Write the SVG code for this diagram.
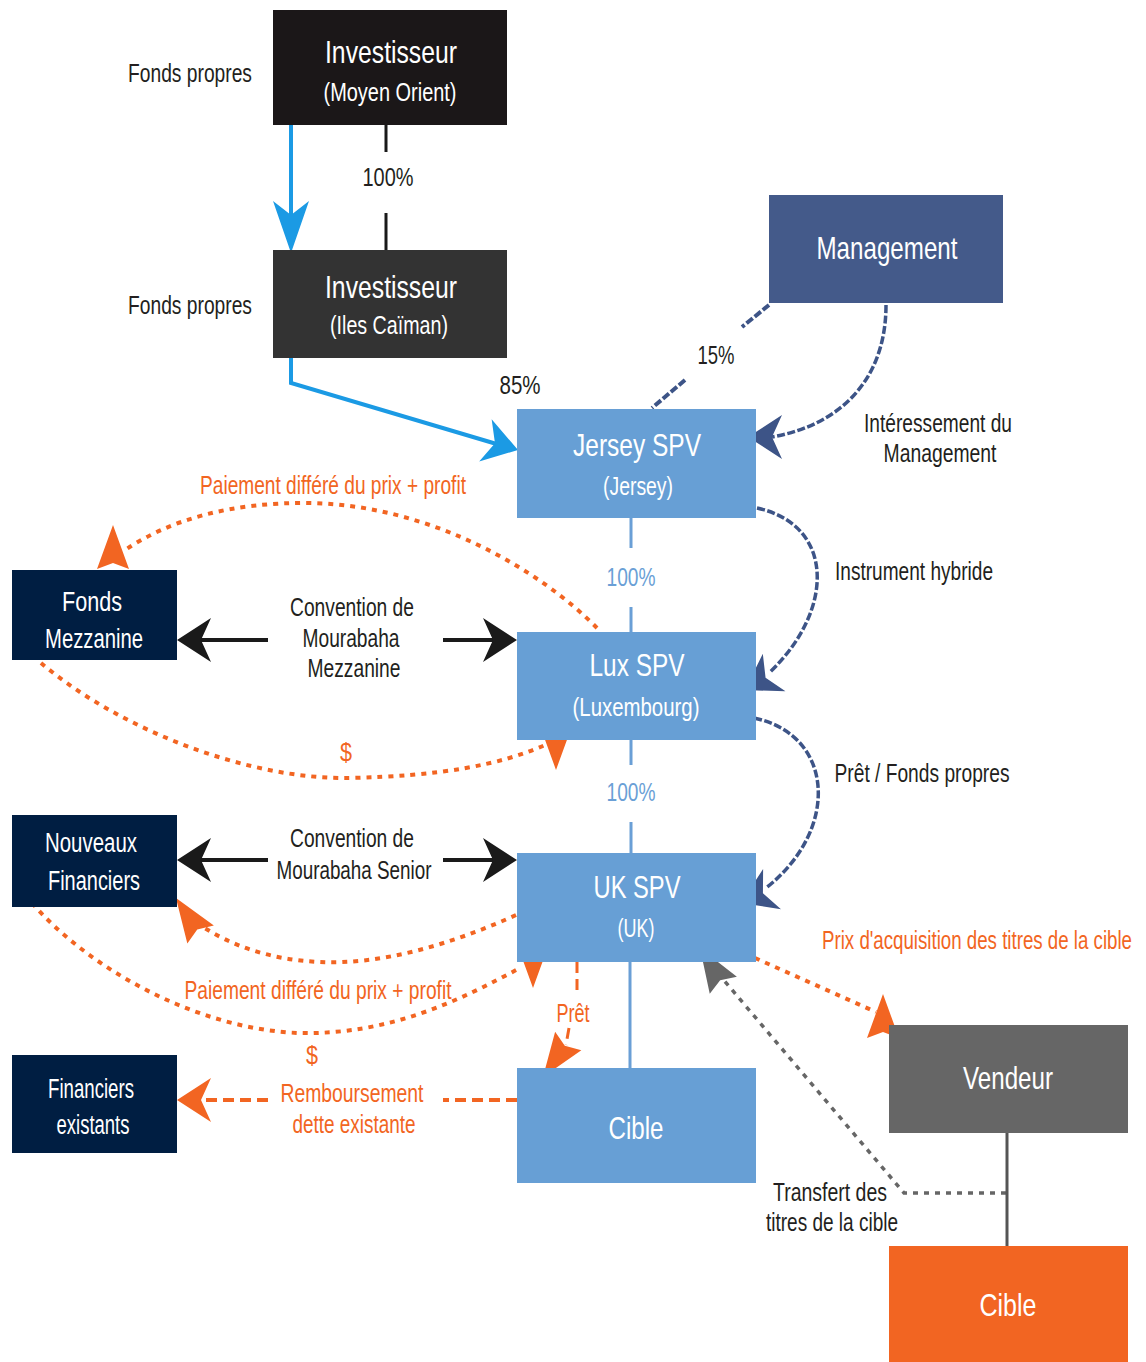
<svg xmlns="http://www.w3.org/2000/svg" xmlns:xlink="http://www.w3.org/1999/xlink" width="1146" height="1362" viewBox="0 0 1146 1362">
<defs>
<style>
text{font-family:"Liberation Sans Narrow","Liberation Sans",Arial,sans-serif;text-anchor:middle}
.t{fill:#fff;font-size:32px}
.s{fill:#fff;font-size:25px}
.n{fill:#fff;font-size:27px}
.l{fill:#231f20;font-size:26px}
.o{fill:#f26522;font-size:26px}
.b{fill:#6a9fd6;font-size:26px}
.dot{fill:none;stroke:#f26522;stroke-width:4;stroke-dasharray:5 6}
.dash{fill:none;stroke:#f26522;stroke-width:4;stroke-dasharray:11 6}
.dk{fill:none;stroke:#3d5487;stroke-width:3.5;stroke-dasharray:8 2.5}
.vl{fill:none;stroke:#6a9fd6;stroke-width:3}
.blk{fill:none;stroke:#1a1a1a;stroke-width:4}
.bl{fill:none;stroke:#1b9ae4;stroke-width:4}
</style>
<path id="ah" d="M0,0 L-34,-22 L-24,0 L-34,22 Z"/>
<path id="ao" d="M0,0 L-44,-16 L-38,0 L-44,16 Z"/>
</defs>

<g id="connectors">
  <path class="bl" d="M291,125 V215"/>
  <path d="M291,253 L273,201 L291,215 L309,201 Z" fill="#1b9ae4"/>
  <path class="blk" d="M386,125 V152 M386,213 V250" style="stroke-width:3"/>
  <path class="bl" d="M291,358 V383 L500,445"/>
  <use xlink:href="#ah" href="#ah" fill="#1b9ae4" transform="translate(518,450) rotate(16.5)"/>
  <path class="dk" d="M769,305 L742,327 M685,380 L652,408" style="stroke-width:4"/>
  <path class="dk" d="M886,305 C886,380 840,425 772,437"/>
  <use href="#ah" xlink:href="#ah" fill="#3d5487" transform="translate(748,437) rotate(180)"/>
  <path class="vl" d="M631,518 V548 M631,607 V632 M631,740 V765 M631,822 V853 M630,962 V1068"/>
  <path class="dk" d="M757,508 C835,525 835,610 770,672"/>
  <use href="#ah" xlink:href="#ah" fill="#3d5487" transform="translate(745,690) rotate(149)"/>
  <path class="dk" d="M754,718 C835,735 840,830 766,888"/>
  <use href="#ah" xlink:href="#ah" fill="#3d5487" transform="translate(741,903) rotate(156)"/>
  <path class="blk" d="M200,640 H268 M443,640 H495"/>
  <use href="#ah" xlink:href="#ah" fill="#1a1a1a" transform="translate(177,640) rotate(180)"/>
  <use href="#ah" xlink:href="#ah" fill="#1a1a1a" transform="translate(517,640)"/>
  <path class="dot" d="M597,628 C540,570 430,505 310,503 C230,502 170,520 125,550"/>
  <use href="#ao" xlink:href="#ao" fill="#f26522" transform="translate(113,525) rotate(-90)"/>
  <path class="dot" d="M41,663 C120,730 250,780 350,778 C440,776 500,765 545,745"/>
  <use href="#ao" xlink:href="#ao" fill="#f26522" transform="translate(556,770) rotate(90)"/>
  <path class="blk" d="M200,860 H268 M443,860 H495"/>
  <use href="#ah" xlink:href="#ah" fill="#1a1a1a" transform="translate(177,860) rotate(180)"/>
  <use href="#ah" xlink:href="#ah" fill="#1a1a1a" transform="translate(517,860)"/>
  <path class="dot" d="M516,915 C450,945 380,965 320,962 C270,960 230,945 200,925"/>
  <use href="#ao" xlink:href="#ao" fill="#f26522" transform="translate(176,898) rotate(-124)"/>
  <path class="dot" d="M32,903 C90,970 200,1030 300,1033 C390,1035 460,1000 520,968"/>
  <use href="#ao" xlink:href="#ao" fill="#f26522" transform="translate(533,988) rotate(90)"/>
  <path class="dash" d="M517,1100 H443 M268,1100 H200"/>
  <use href="#ah" xlink:href="#ah" fill="#f26522" transform="translate(177,1100) rotate(180)"/>
  <path class="dash" d="M577,962 V990 M569,1028 L566,1045" style="stroke-width:3"/>
  <use href="#ao" xlink:href="#ao" fill="#f26522" transform="translate(543,1077) rotate(125)"/>
  <path class="dot" d="M755,958 L876,1012"/>
  <use href="#ao" xlink:href="#ao" fill="#f26522" transform="translate(883,994) rotate(-90)"/>
  <path class="dot" d="M1006,1193 H904 L722,978" style="stroke:#666;stroke-width:3.5"/>
  <use href="#ao" xlink:href="#ao" fill="#666" transform="translate(700,948) rotate(-122)"/>
  <path d="M1007,1133 V1246" fill="none" stroke="#555" stroke-width="3"/>
</g>

<g id="labels">
  <text class="l" x="190" y="82" textLength="124" lengthAdjust="spacingAndGlyphs">Fonds propres</text>
  <text class="l" x="190" y="314" textLength="124" lengthAdjust="spacingAndGlyphs">Fonds propres</text>
  <text class="l" x="388" y="186" textLength="51" lengthAdjust="spacingAndGlyphs">100%</text>
  <text class="l" x="716" y="364" textLength="37" lengthAdjust="spacingAndGlyphs">15%</text>
  <text class="l" x="520" y="394" textLength="41" lengthAdjust="spacingAndGlyphs">85%</text>
  <text class="l" x="938" y="432" textLength="148" lengthAdjust="spacingAndGlyphs">Intéressement du</text>
  <text class="l" x="940" y="462" textLength="113" lengthAdjust="spacingAndGlyphs">Management</text>
  <text class="o" x="333" y="494" textLength="266" lengthAdjust="spacingAndGlyphs">Paiement différé du prix + profit</text>
  <text class="b" x="631" y="586" textLength="49" lengthAdjust="spacingAndGlyphs">100%</text>
  <text class="l" x="914" y="580" textLength="158" lengthAdjust="spacingAndGlyphs">Instrument hybride</text>
  <text class="l" x="352" y="616" textLength="124" lengthAdjust="spacingAndGlyphs">Convention de</text>
  <text class="l" x="351" y="647" textLength="97" lengthAdjust="spacingAndGlyphs">Mourabaha</text>
  <text class="l" x="354" y="677" textLength="93" lengthAdjust="spacingAndGlyphs">Mezzanine</text>
  <text class="o" x="346" y="761" textLength="12" lengthAdjust="spacingAndGlyphs">$</text>
  <text class="b" x="631" y="801" textLength="49" lengthAdjust="spacingAndGlyphs">100%</text>
  <text class="l" x="922" y="782" textLength="175" lengthAdjust="spacingAndGlyphs">Prêt / Fonds propres</text>
  <text class="l" x="352" y="847" textLength="124" lengthAdjust="spacingAndGlyphs">Convention de</text>
  <text class="l" x="354" y="879" textLength="155" lengthAdjust="spacingAndGlyphs">Mourabaha Senior</text>
  <text class="o" x="1132" y="949" style="text-anchor:end" textLength="310" lengthAdjust="spacingAndGlyphs">Prix d'acquisition des titres de la cible</text>
  <text class="o" x="318" y="999" textLength="267" lengthAdjust="spacingAndGlyphs">Paiement différé du prix + profit</text>
  <text class="o" x="573" y="1022" textLength="33" lengthAdjust="spacingAndGlyphs">Prêt</text>
  <text class="o" x="312" y="1064" textLength="12" lengthAdjust="spacingAndGlyphs">$</text>
  <text class="o" x="352" y="1102" textLength="143" lengthAdjust="spacingAndGlyphs">Remboursement</text>
  <text class="o" x="354" y="1133" textLength="123" lengthAdjust="spacingAndGlyphs">dette existante</text>
  <text class="l" x="830" y="1201" textLength="114" lengthAdjust="spacingAndGlyphs">Transfert des</text>
  <text class="l" x="832" y="1231" textLength="132" lengthAdjust="spacingAndGlyphs">titres de la cible</text>
</g>

<g id="investisseur-moyen-orient">
  <rect x="273" y="10" width="234" height="115" fill="#1b1718"/>
  <text class="t" x="391" y="63" textLength="132" lengthAdjust="spacingAndGlyphs">Investisseur</text>
  <text class="s" x="390" y="101" textLength="133" lengthAdjust="spacingAndGlyphs">(Moyen Orient)</text>
</g>
<g id="investisseur-iles-caiman">
  <rect x="273" y="250" width="234" height="108" fill="#333333"/>
  <text class="t" x="391" y="298" textLength="132" lengthAdjust="spacingAndGlyphs">Investisseur</text>
  <text class="s" x="389" y="334" textLength="118" lengthAdjust="spacingAndGlyphs">(Iles Caïman)</text>
</g>
<g id="management">
  <rect x="769" y="195" width="234" height="108" fill="#445a8a"/>
  <text class="t" x="887" y="259" textLength="141" lengthAdjust="spacingAndGlyphs">Management</text>
</g>
<g id="jersey-spv">
  <rect x="517" y="409" width="239" height="109" fill="#679fd5"/>
  <text class="t" x="637" y="456" textLength="128" lengthAdjust="spacingAndGlyphs">Jersey SPV</text>
  <text class="s" x="638" y="495" textLength="70" lengthAdjust="spacingAndGlyphs">(Jersey)</text>
</g>
<g id="lux-spv">
  <rect x="517" y="632" width="239" height="108" fill="#679fd5"/>
  <text class="t" x="637" y="676" textLength="95" lengthAdjust="spacingAndGlyphs">Lux SPV</text>
  <text class="s" x="636" y="716" textLength="127" lengthAdjust="spacingAndGlyphs">(Luxembourg)</text>
</g>
<g id="uk-spv">
  <rect x="517" y="853" width="239" height="109" fill="#679fd5"/>
  <text class="t" x="637" y="898" textLength="87" lengthAdjust="spacingAndGlyphs">UK SPV</text>
  <text class="s" x="636" y="937" textLength="37" lengthAdjust="spacingAndGlyphs">(UK)</text>
</g>
<g id="cible-spv">
  <rect x="517" y="1068" width="239" height="115" fill="#679fd5"/>
  <text class="t" x="636" y="1139" textLength="55" lengthAdjust="spacingAndGlyphs">Cible</text>
</g>
<g id="vendeur">
  <rect x="889" y="1025" width="239" height="108" fill="#666666"/>
  <text class="t" x="1008" y="1089" textLength="90" lengthAdjust="spacingAndGlyphs">Vendeur</text>
</g>
<g id="cible">
  <rect x="889" y="1246" width="239" height="116" fill="#f26522"/>
  <text class="t" x="1008" y="1316" textLength="57" lengthAdjust="spacingAndGlyphs">Cible</text>
</g>
<g id="fonds-mezzanine">
  <rect x="12" y="570" width="165" height="90" fill="#001e42"/>
  <text class="n" x="92" y="611" textLength="60" lengthAdjust="spacingAndGlyphs">Fonds</text>
  <text class="n" x="94" y="648" textLength="98" lengthAdjust="spacingAndGlyphs">Mezzanine</text>
</g>
<g id="nouveaux-financiers">
  <rect x="12" y="815" width="165" height="92" fill="#001e42"/>
  <text class="n" x="91" y="852" textLength="92" lengthAdjust="spacingAndGlyphs">Nouveaux</text>
  <text class="n" x="94" y="890" textLength="92" lengthAdjust="spacingAndGlyphs">Financiers</text>
</g>
<g id="financiers-existants">
  <rect x="12" y="1055" width="165" height="98" fill="#001e42"/>
  <text class="n" x="91" y="1098" textLength="86" lengthAdjust="spacingAndGlyphs">Financiers</text>
  <text class="n" x="93" y="1134" textLength="73" lengthAdjust="spacingAndGlyphs">existants</text>
</g>
</svg>
